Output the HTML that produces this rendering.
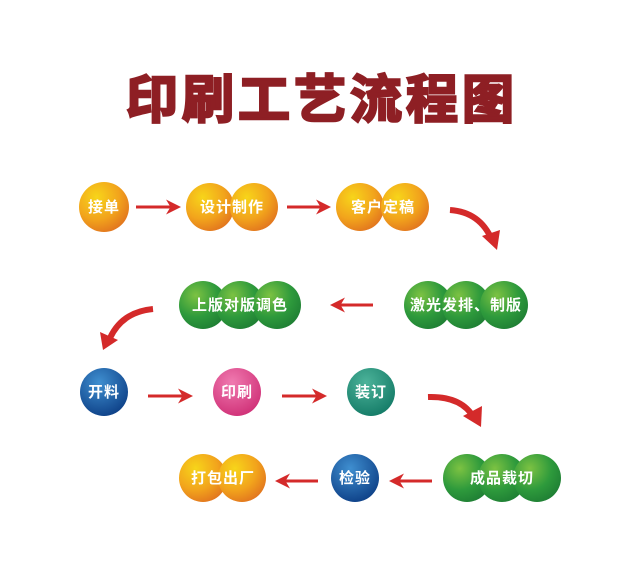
<!DOCTYPE html>
<html><head><meta charset="utf-8"><style>
body{margin:0;background:#fff;width:640px;height:569px;overflow:hidden}
svg{display:block}
text{font-family:"Liberation Sans","Noto Sans CJK SC",sans-serif;font-weight:bold}
.t{fill:#fff;font-size:15px;text-anchor:middle;letter-spacing:1px}
</style></head><body>
<svg width="640" height="569" viewBox="0 0 640 569">
<defs>
<radialGradient id="o" cx="35%" cy="30%" r="75%"><stop offset="0" stop-color="#f7d51a"/><stop offset="0.6" stop-color="#f2a41c"/><stop offset="1" stop-color="#e2761e"/></radialGradient>
<radialGradient id="g" cx="35%" cy="30%" r="75%"><stop offset="0" stop-color="#7cc242"/><stop offset="0.6" stop-color="#2e9a3c"/><stop offset="1" stop-color="#1f7f34"/></radialGradient>
<radialGradient id="b" cx="40%" cy="30%" r="75%"><stop offset="0" stop-color="#3f8fd0"/><stop offset="1" stop-color="#0d3f86"/></radialGradient>
<radialGradient id="p" cx="40%" cy="30%" r="75%"><stop offset="0" stop-color="#f07ab0"/><stop offset="1" stop-color="#cf2f76"/></radialGradient>
<radialGradient id="tl" cx="40%" cy="30%" r="75%"><stop offset="0" stop-color="#4cb39a"/><stop offset="1" stop-color="#137a66"/></radialGradient>
<marker id="ah" viewBox="0 0 10 10" refX="8" refY="5" markerWidth="5" markerHeight="5" orient="auto"><path d="M0,0 L10,5 L0,10 L3,5z" fill="#d42a2a"/></marker>
</defs>
<text x="322" y="118" font-size="52" fill="#8e1f24" text-anchor="middle" letter-spacing="4" stroke="#8e1f24" stroke-width="2.5">印刷工艺流程图</text>

<!-- row1 -->
<circle cx="104" cy="207" r="25" fill="url(#o)"/><text class="t" x="104" y="212">接单</text>
<circle cx="210" cy="207" r="24" fill="url(#o)"/><circle cx="254" cy="207" r="24" fill="url(#o)"/><text class="t" x="232" y="212">设计制作</text>
<circle cx="360" cy="207" r="24" fill="url(#o)"/><circle cx="405" cy="207" r="24" fill="url(#o)"/><text class="t" x="383" y="212">客户定稿</text>
<line x1="136" y1="207" x2="178" y2="207" stroke="#d42a2a" stroke-width="3" marker-end="url(#ah)"/>
<line x1="287" y1="207" x2="328" y2="207" stroke="#d42a2a" stroke-width="3" marker-end="url(#ah)"/>
<path d="M450,210 Q480,212 492,240" stroke="#d42a2a" stroke-width="6" fill="none"/><path d="M482,236 L500,230 L497,250z" fill="#d42a2a"/>

<!-- row2 -->
<circle cx="203" cy="305" r="24" fill="url(#g)"/><circle cx="240" cy="305" r="24" fill="url(#g)"/><circle cx="277" cy="305" r="24" fill="url(#g)"/><text class="t" x="240" y="310">上版对版调色</text>
<circle cx="428" cy="305" r="24" fill="url(#g)"/><circle cx="466" cy="305" r="24" fill="url(#g)"/><circle cx="504" cy="305" r="24" fill="url(#g)"/><text class="t" x="466" y="310" letter-spacing="0">激光发排、制版</text>
<line x1="373" y1="305" x2="333" y2="305" stroke="#d42a2a" stroke-width="3" marker-end="url(#ah)"/>
<path d="M153,309 Q122,312 110,338" stroke="#d42a2a" stroke-width="6" fill="none"/><path d="M100,332 L118,340 L103,350z" fill="#d42a2a"/>

<!-- row3 -->
<circle cx="104" cy="392" r="24" fill="url(#b)"/><text class="t" x="104" y="397">开料</text>
<circle cx="237" cy="392" r="24" fill="url(#p)"/><text class="t" x="237" y="397">印刷</text>
<circle cx="371" cy="392" r="24" fill="url(#tl)"/><text class="t" x="371" y="397">装订</text>
<line x1="148" y1="396" x2="190" y2="396" stroke="#d42a2a" stroke-width="3" marker-end="url(#ah)"/>
<line x1="282" y1="396" x2="324" y2="396" stroke="#d42a2a" stroke-width="3" marker-end="url(#ah)"/>
<path d="M428,397 Q462,396 474,418" stroke="#d42a2a" stroke-width="6" fill="none"/><path d="M463,416 L482,406 L481,427z" fill="#d42a2a"/>

<!-- row4 -->
<circle cx="203" cy="478" r="24" fill="url(#o)"/><circle cx="242" cy="478" r="24" fill="url(#o)"/><text class="t" x="223" y="483">打包出厂</text>
<circle cx="355" cy="478" r="24" fill="url(#b)"/><text class="t" x="355" y="483">检验</text>
<circle cx="467" cy="478" r="24" fill="url(#g)"/><circle cx="502" cy="478" r="24" fill="url(#g)"/><circle cx="537" cy="478" r="24" fill="url(#g)"/><text class="t" x="502" y="483">成品裁切</text>
<line x1="318" y1="481" x2="278" y2="481" stroke="#d42a2a" stroke-width="3" marker-end="url(#ah)"/>
<line x1="432" y1="481" x2="392" y2="481" stroke="#d42a2a" stroke-width="3" marker-end="url(#ah)"/>
</svg>
</body></html>
